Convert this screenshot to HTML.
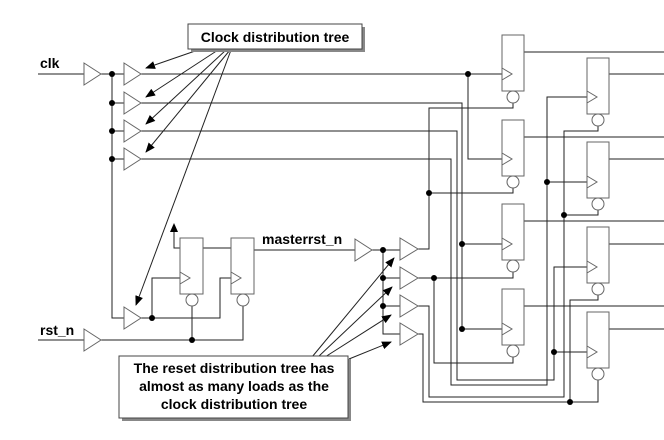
<!DOCTYPE html>
<html><head><style>
html,body{margin:0;padding:0;background:#fff;}
svg{display:block;}
text{font-family:"Liberation Sans",sans-serif;font-weight:bold;font-size:14px;fill:#000;}
</style></head><body>
<svg width="664" height="440" viewBox="0 0 664 440" xmlns="http://www.w3.org/2000/svg">
<defs>
<marker id="ah" markerWidth="10" markerHeight="8" refX="9" refY="4" orient="auto" markerUnits="userSpaceOnUse">
<polygon points="0,0 10,4 0,8" fill="#000"/>
</marker>
</defs>
<g fill="none" stroke="#222" stroke-width="1">
<!-- clk -->
<path d="M38 74H84M101 74H124M112 74V318H124M112 103H124M112 131H124M112 159H124"/>
<path d="M141 74H502M468 74V159H502"/>
<path d="M141 103H462V329H502M462 244H502"/>
<path d="M141 131H457V380H554V267H587M554 352H587"/>
<path d="M141 159H451V385H547V97H587M547 182H587"/>
<path d="M524 52H664M524 137H664M524 221H664M524 306H664M609 74H664M609 159H664M609 244H664M609 329H664"/>
<!-- reset -->
<path d="M513 103V108H429V249H418M513 188V193H429"/>
<path d="M418 278H434V363H513V351M513 272V278H434"/>
<path d="M418 306H429V397H564V131H598V126M598 210V215H564"/>
<path d="M418 334H423V402H598V380M598 295V300H570V402"/>
<path d="M254 250H355M372 250H400M383 250V334H400M383 278H400M383 306H400"/>
<path d="M38 340H84M101 340H243V306M192 340V306"/>
<path d="M141 318H220V278H231M152 318V278H180"/>
<path d="M180 248H174V230M203 248H231"/>
</g>
<polygon points="170,232 178,232 174,223" fill="#000"/>
<!-- buffers -->
<g fill="#fff" stroke="#666" stroke-width="1">
<polygon points="84,63 84,85 101,74"/>
<polygon points="84,329 84,351 101,340"/>
<polygon points="124,63 124,85 141,74"/>
<polygon points="124,92 124,114 141,103"/>
<polygon points="124,120 124,142 141,131"/>
<polygon points="124,148 124,170 141,159"/>
<polygon points="124,307 124,329 141,318"/>
<polygon points="355,239 355,261 372,250"/>
<polygon points="400,238 400,260 418,249"/>
<polygon points="400,267 400,289 418,278"/>
<polygon points="400,295 400,317 418,306"/>
<polygon points="400,323 400,345 418,334"/>
</g>
<!-- flip flops -->
<g fill="#fff" stroke="#666" stroke-width="1">
<rect x="502" y="35" width="22" height="56"/><circle cx="513" cy="97" r="6"/>
<rect x="502" y="120" width="22" height="56"/><circle cx="513" cy="182" r="6"/>
<rect x="502" y="204" width="22" height="56"/><circle cx="513" cy="266" r="6"/>
<rect x="502" y="289" width="22" height="56"/><circle cx="513" cy="351" r="6"/>
<rect x="587" y="58" width="22" height="56"/><circle cx="598" cy="120" r="6"/>
<rect x="587" y="142" width="22" height="56"/><circle cx="598" cy="204" r="6"/>
<rect x="587" y="227" width="22" height="56"/><circle cx="598" cy="289" r="6"/>
<rect x="587" y="312" width="22" height="56"/><circle cx="598" cy="374" r="6"/>
<rect x="180" y="238" width="23" height="56"/><circle cx="192" cy="300" r="6"/>
<rect x="231" y="238" width="23" height="56"/><circle cx="243" cy="300" r="6"/>
</g>
<g fill="none" stroke="#666">
<path d="M502 68L512 74L502 80M502 153L512 159L502 165M502 238L512 244L502 250M502 323L512 329L502 335"/>
<path d="M587 91L597 97L587 103M587 176L597 182L587 188M587 261L597 267L587 273M587 346L597 352L587 358"/>
<path d="M180 272L190 278L180 284M231 272L241 278L231 284"/>
</g>
<!-- dots -->
<g fill="#000">
<circle cx="112" cy="74" r="3"/><circle cx="112" cy="103" r="3"/><circle cx="112" cy="131" r="3"/><circle cx="112" cy="159" r="3"/>
<circle cx="468" cy="74" r="3"/><circle cx="429" cy="193" r="3"/><circle cx="547" cy="182" r="3"/><circle cx="564" cy="215" r="3"/>
<circle cx="462" cy="244" r="3"/><circle cx="462" cy="329" r="3"/><circle cx="434" cy="278" r="3"/><circle cx="554" cy="352" r="3"/>
<circle cx="570" cy="402" r="3"/><circle cx="383" cy="250" r="3"/><circle cx="383" cy="278" r="3"/><circle cx="383" cy="306" r="3"/>
<circle cx="152" cy="318" r="3"/><circle cx="192" cy="340" r="3"/>
</g>
<!-- labels -->
<text x="40" y="68">clk</text>
<text x="40" y="335">rst_n</text>
<text x="262" y="244">masterrst_n</text>
<!-- callout arrows -->
<g stroke="#222" stroke-width="1" marker-end="url(#ah)">
<line x1="198" y1="50" x2="146" y2="68"/>
<line x1="218" y1="50" x2="146" y2="97"/>
<line x1="226" y1="50" x2="146" y2="124"/>
<line x1="230" y1="50" x2="146" y2="152"/>
<line x1="231" y1="50" x2="136" y2="305"/>
<line x1="312" y1="357" x2="394" y2="258"/>
<line x1="318" y1="357" x2="392" y2="287"/>
<line x1="325" y1="357" x2="391" y2="315"/>
<line x1="349" y1="359" x2="391" y2="342"/>
</g>
<!-- callout boxes -->
<rect x="191" y="27" width="174" height="25" fill="#888"/>
<rect x="188" y="24" width="174" height="25" fill="#fff" stroke="#444"/>
<text x="275" y="42" text-anchor="middle">Clock distribution tree</text>
<rect x="122" y="359" width="229" height="62" fill="#888"/>
<rect x="119" y="356" width="229" height="62" fill="#fff" stroke="#444"/>
<text x="234" y="373" text-anchor="middle">The reset distribution tree has</text>
<text x="234" y="391" text-anchor="middle">almost as many loads as the</text>
<text x="234" y="409" text-anchor="middle">clock distribution tree</text>
</svg>
</body></html>
